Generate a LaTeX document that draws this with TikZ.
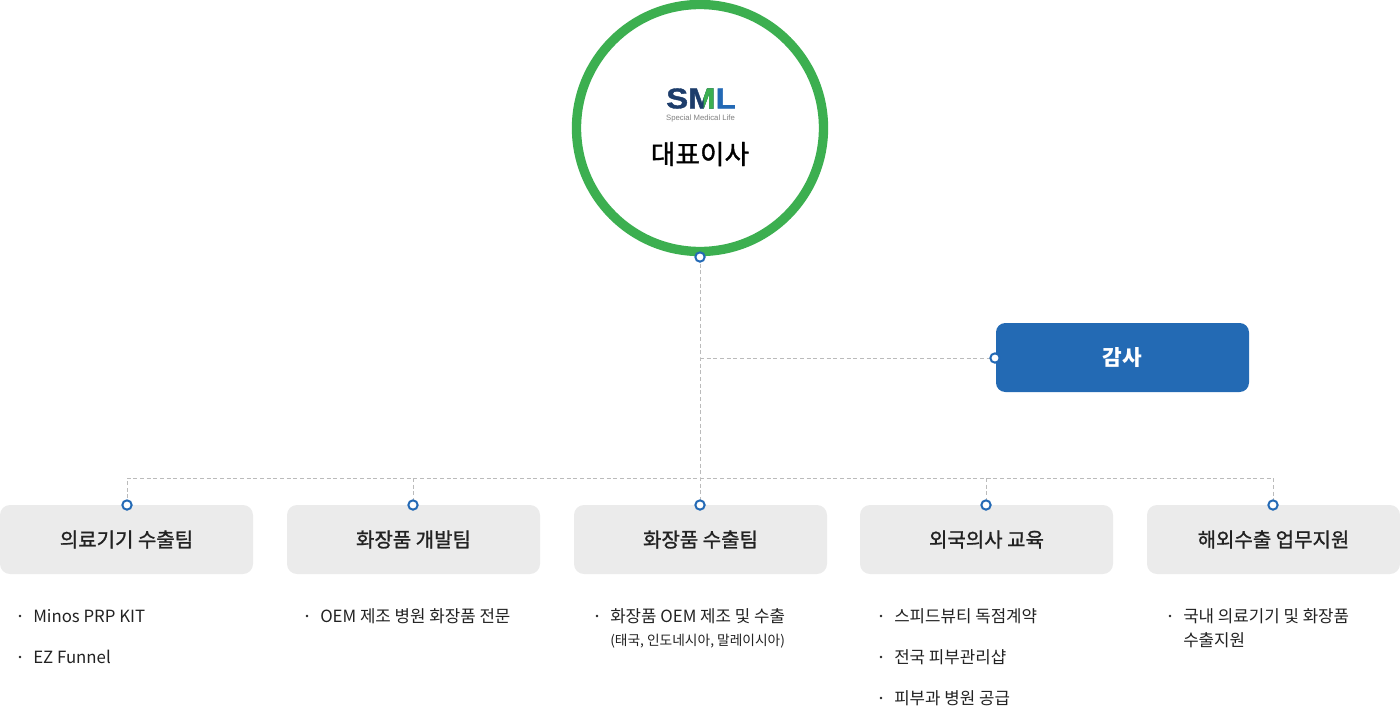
\documentclass[tikz,border=0pt]{standalone}
\usepackage{fontspec}
\usepackage{graphicx}
\setmainfont{Noto Sans CJK KR}
\newfontfamily\krmed[FakeBold=1.2]{Noto Sans CJK KR}
\newfontfamily\logofont[FakeBold=1.2]{Liberation Sans}
\newfontfamily\logothin{Liberation Sans}
\definecolor{ringgreen}{HTML}{3CAF50}
\definecolor{dotblue}{HTML}{2369B5}
\definecolor{boxblue}{HTML}{236AB4}
\definecolor{boxgrey}{HTML}{EBEBEB}
\definecolor{linegrey}{HTML}{BBBBBB}
\definecolor{navy}{HTML}{1D3D6B}
\definecolor{txt}{HTML}{222222}
\begin{document}
\begin{tikzpicture}[x=0.75pt,y=-0.75pt,
  conn/.style={draw=linegrey, line width=0.75pt, dash pattern=on 3pt off 2pt},
  pin/.style={circle, draw=dotblue, fill=white, line width=1.5pt, minimum size=7pt, inner sep=0pt},
  team/.style={rectangle, rounded corners=7.5pt, fill=boxgrey, minimum width=189.75pt, minimum height=51.75pt, inner sep=0pt, font=\krmed\fontsize{15}{18}\selectfont, text=txt},
  item/.style={anchor=west, inner sep=0pt, font=\fontsize{12.6}{15}\selectfont, text=txt},
  subitem/.style={anchor=west, inner sep=0pt, font=\fontsize{10.3}{12}\selectfont, text=txt},
  dotb/.style={circle, fill=txt, inner sep=0pt, minimum size=2.2pt},
  logo/.style={anchor=center, inner sep=0pt, font=\logofont\bfseries\fontsize{21.5}{22}\selectfont}
]
\useasboundingbox (0,0) rectangle (1400,708);
% central circle
\draw[ringgreen, line width=7pt] (700,128) circle (123.5);
\node[logo] (logo) at (701,98.5) {\scalebox{1.15}[1]{\textcolor{navy}{SM}\textcolor{dotblue}{L}}};
\begin{scope}
\clip (703.5,84) rectangle (714,112);
\node[logo, text=ringgreen] (logoG) at (701,98.5) {\scalebox{1.15}[1]{SML}};
\end{scope}
\node[anchor=center, inner sep=0pt, font=\logothin\fontsize{5.8}{6}\selectfont, text=gray] (logoT) at (700.5,118.5) {Special Medical Life};
\node[anchor=center, inner sep=0pt, font=\krmed\fontsize{20}{24}\selectfont, text=black] (ceo) at (700,154) {대표이사};
% audit
\node[rectangle, rounded corners=7pt, fill=boxblue, minimum width=189.75pt, minimum height=51.75pt, inner sep=0pt, font=\bfseries\fontsize{16}{18}\selectfont, text=white] (audit) at (1122.5,357.5) {감사};
% teams
\node[team] (t1) at (126.5,539.5) {의료기기 수출팀};
\node[team] (t2) at (413.5,539.5) {화장품 개발팀};
\node[team] (t3) at (700.5,539.5) {화장품 수출팀};
\node[team] (t4) at (986.5,539.5) {외국의사 교육};
\node[team] (t5) at (1273.5,539.5) {해외수출 업무지원};
\coordinate (j1) at (700,358);
\coordinate (j2) at (700,478);
\coordinate (h1) at (127,478);
\coordinate (h2) at (413,478);
\coordinate (h4) at (986,478);
\coordinate (h5) at (1273,478);
\coordinate (c0) at (700,257);
\coordinate (ca) at (995,358);
\coordinate (c1) at (127,505);
\coordinate (c2) at (413,505);
\coordinate (c3) at (700,505);
\coordinate (c4) at (986,505);
\coordinate (c5) at (1273,505);
% connectors
\draw[conn] (c0) -- (j1) -- (j2) -- (c3);
\draw[conn] (j1) -- (ca);
\draw[conn] (c1) -- (h1) -- (h5) -- (c5);
\draw[conn] (h2) -- (c2);
\draw[conn] (h4) -- (c4);
% pins
\node[pin] (p0) at (c0) {};
\node[pin] (pa) at (ca) {};
\node[pin] (p1) at (c1) {};
\node[pin] (p2) at (c2) {};
\node[pin] (p3) at (c3) {};
\node[pin] (p4) at (c4) {};
\node[pin] (p5) at (c5) {};
% items
\node[dotb] (b11) at (20,616) {};
\node[item] (i11) at (33,616) {Minos PRP KIT};
\node[dotb] (b12) at (20,657) {};
\node[item] (i12) at (33,657) {EZ Funnel};
\node[dotb] (b21) at (307,616) {};
\node[item] (i21) at (320,616) {OEM 제조 병원 화장품 전문};
\node[dotb] (b31) at (597,616) {};
\node[item] (i31) at (610,616) {화장품 OEM 제조 및 수출};
\node[subitem] (i32) at (610,641) {(태국, 인도네시아, 말레이시아)};
\node[dotb] (b41) at (881,616) {};
\node[item] (i41) at (894,616) {스피드뷰티 독점계약};
\node[dotb] (b42) at (881,657) {};
\node[item] (i42) at (894,657) {전국 피부관리샵};
\node[dotb] (b43) at (881,698) {};
\node[item] (i43) at (894,698) {피부과 병원 공급};
\node[dotb] (b51) at (1170,616) {};
\node[item] (i51) at (1183,616) {국내 의료기기 및 화장품};
\node[item] (i52) at (1183,640) {수출지원};
\end{tikzpicture}
\end{document}
